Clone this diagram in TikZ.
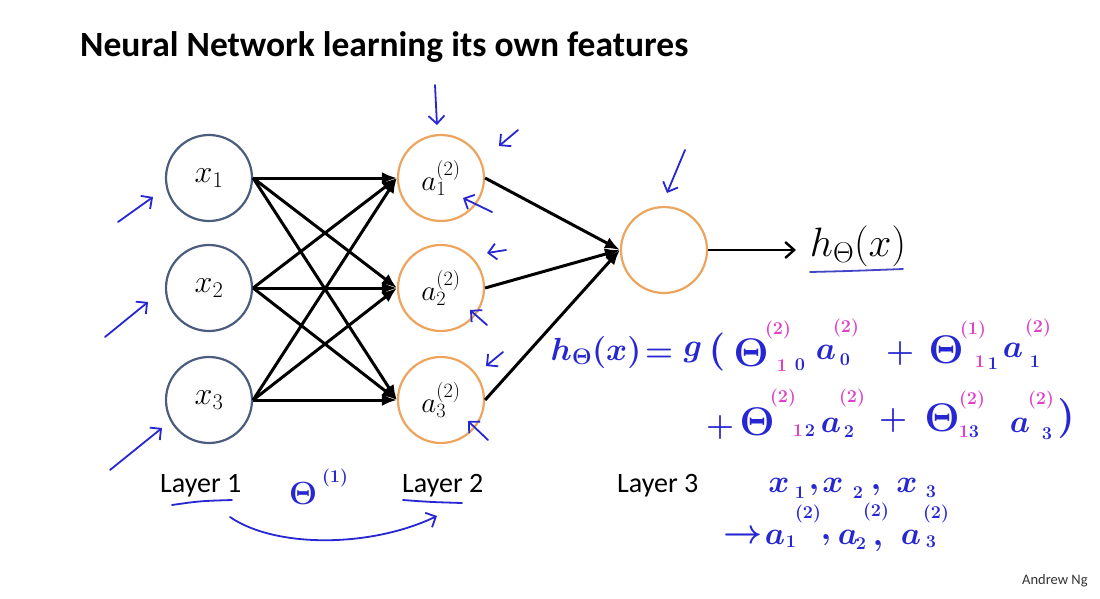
\RequirePackage{fix-cm}
\documentclass[tikz,border=0pt]{standalone}
\usepackage[no-math]{fontspec}
\setmainfont{Carlito}
\usetikzlibrary{arrows.meta}
\definecolor{slate}{HTML}{4A5D7E}
\definecolor{orng}{HTML}{EBA55E}
\definecolor{penblue}{HTML}{2626D2}
\definecolor{penmag}{HTML}{E040C8}
\definecolor{ulblue}{HTML}{4545C8}
\begin{document}
\begin{tikzpicture}[x=1pt,y=-1pt,
  neuron/.style={circle, line width=2.2pt, minimum size=86pt, inner sep=0pt},
  inneuron/.style={neuron, draw=slate, font=\fontsize{32}{34}\selectfont},
  hidneuron/.style={neuron, draw=orng, font=\fontsize{29}{31}\selectfont},
  conn/.style={line width=3pt, -{Latex[length=15pt,width=12pt]}},
  outconn/.style={line width=2.4pt, -{Straight Barb[length=9pt,width=16pt,line width=2.4pt]}},
  pen/.style={penblue, line width=1.8pt, line cap=round, line join=round},
  penarrow/.style={pen, -{Straight Barb[length=8pt,width=16pt,line width=1.8pt]}},
  hw/.style={text=penblue, font=\fontsize{32}{34}\selectfont\boldmath, inner sep=0pt},
  hwbig/.style={text=penblue, font=\fontsize{40}{42}\selectfont\boldmath, inner sep=0pt},
  hwsup/.style={text=penmag, font=\fontsize{18}{19}\selectfont\boldmath, inner sep=0pt},
  hwsupb/.style={text=penblue, font=\fontsize{18}{19}\selectfont\boldmath, inner sep=0pt},
  layerlbl/.style={font=\fontsize{28}{30}\selectfont, anchor=base west, inner sep=0pt}
]
\fill[white] (0,0) rectangle (1100,598);
\useasboundingbox (0,0) rectangle (1100,598);

% title
\node[anchor=base west, inner sep=0pt, font=\fontsize{35.5}{38}\selectfont\bfseries] (title) at (80,56) {Neural Network learning its own features};

% neurons
\node[inneuron] (x1) at (209,178) {$x_1$};
\node[inneuron] (x2) at (209,288) {$x_2$};
\node[inneuron] (x3) at (209,400) {$x_3$};
\node[hidneuron] (a1) at (441,178) {$a^{(2)}_1$};
\node[hidneuron] (a2) at (441,288) {$a^{(2)}_2$};
\node[hidneuron] (a3) at (441,400) {$a^{(2)}_3$};
\node[neuron, draw=orng] (out) at (664,250) {};
\node[inner sep=0pt, font=\fontsize{41}{43}\selectfont] (h) at (858,246) {$h_\Theta(x)$};

% connections
\foreach \i in {1,2,3}{
  \foreach \j in {1,2,3}{
    \draw[conn] (x\i.east) -- (a\j.west);
  }
  \draw[conn] (a\i.east) -- (out.west);
}
\draw[outconn] (out.east) -- (796,250);

% layer labels
\node[layerlbl] (L1) at (160,492) {Layer 1};
\node[layerlbl] (L2) at (402,492) {Layer 2};
\node[layerlbl] (L3) at (617,492) {Layer 3};
\node[anchor=base west, inner sep=0pt, font=\fontsize{14.5}{16}\selectfont, text=black!80] (ng) at (1022,584) {Andrew Ng};

% handwritten annotation arrows
\coordinate (b1t) at (118,222); \coordinate (b1h) at (153,197);
\coordinate (b2t) at (105,337); \coordinate (b2h) at (148,302);
\coordinate (b3t) at (110,470); \coordinate (b3h) at (162,428);
\coordinate (d1t) at (435,85);  \coordinate (d1h) at (437,125);
\coordinate (d2t) at (518,130); \coordinate (d2h) at (499,146);
\coordinate (d3t) at (492,212); \coordinate (d3h) at (463,198);
\coordinate (d4t) at (506,250); \coordinate (d4h) at (487,253);
\coordinate (d5t) at (487,325); \coordinate (d5h) at (470,310);
\coordinate (d6t) at (503,352); \coordinate (d6h) at (486,366);
\coordinate (d7t) at (488,440); \coordinate (d7h) at (468,421);
\coordinate (d8t) at (685,150); \coordinate (d8h) at (667,193);
\foreach \p in {b1,b2,b3,d1,d2,d3,d4,d5,d6,d7,d8}{
  \draw[penarrow] (\p t) -- (\p h);
}

% underlines and curved arrow
\draw[pen, ulblue] (810,272) .. controls (850,271) .. (903,269);
\draw[pen] (172,505) .. controls (200,501) .. (232,500);
\draw[pen] (403,500) .. controls (430,502) .. (462,503);
\coordinate (cs) at (230,517);
\coordinate (ce) at (437,516);
\draw[penarrow] (cs) .. controls (275,548) and (370,548) .. (ce);
\node[hw] (thl) at (303,494) {$\Theta$};
\node[hwsupb] (thls) at (335,478) {$(1)$};

% handwritten equation, line 1
\node[hw] (e1) at (596,352) {$h_\Theta(x)$};
\node[hw] (e2) at (659,355) {$=$};
\node[hw] (e3) at (693,352) {$g$};
\node[hw, font=\fontsize{38}{40}\selectfont\boldmath] (e4) at (717,352) {$($};
\node[hwbig] (t1) at (751,353) {$\Theta$};
\node[hwsup] (t1s) at (778,330) {$(2)$};
\node[hwsup] (t1a) at (782,366) {$1$};
\node[hwsupb] (t1b) at (800,365) {$0$};
\node[hw] (p1) at (826,352) {$a$};
\node[hwsup] (p1s) at (846,328) {$(2)$};
\node[hwsupb] (p1b) at (845,360) {$0$};
\node[hw] (pl1) at (900,353) {$+$};
\node[hwbig] (t2) at (946,350) {$\Theta$};
\node[hwsup] (t2s) at (973,330) {$(1)$};
\node[hwsup] (t2a) at (980,362) {$1$};
\node[hwsupb] (t2b) at (993,364) {$1$};
\node[hw] (p2) at (1013,350) {$a$};
\node[hwsup] (p2s) at (1038,328) {$(2)$};
\node[hwsupb] (p2b) at (1035,362) {$1$};

% line 2
\node[hw] (pl2) at (720,427) {$+$};
\node[hwbig] (t3) at (757,422) {$\Theta$};
\node[hwsup] (t3s) at (783,398) {$(2)$};
\node[hwsup] (t3a) at (798,431) {$1$};
\node[hwsupb] (t3b) at (810,431) {$2$};
\node[hw] (p3) at (831,425) {$a$};
\node[hwsup] (p3s) at (852,398) {$(2)$};
\node[hwsupb] (p3b) at (849,432) {$2$};
\node[hw] (pl3) at (893,420) {$+$};
\node[hwbig] (t4) at (942,418) {$\Theta$};
\node[hwsup] (t4s) at (972,400) {$(2)$};
\node[hwsup] (t4a) at (964,432) {$1$};
\node[hwsupb] (t4b) at (974,432) {$3$};
\node[hw] (p4) at (1020,425) {$a$};
\node[hwsup] (p4s) at (1041,400) {$(2)$};
\node[hwsupb] (p4b) at (1047,434) {$3$};
\node[hwbig] (cl) at (1066,418) {$)$};

% x1, x2, x3
\node[hw] (y1) at (779,485) {$x$};
\node[hwsupb] (y1s) at (800,493) {$1$};
\node[hw] (y1c) at (814,490) {$,$};
\node[hw] (y2) at (833,485) {$x$};
\node[hwsupb] (y2s) at (858,493) {$2$};
\node[hw] (y2c) at (876,490) {$,$};
\node[hw] (y3) at (907,485) {$x$};
\node[hwsupb] (y3s) at (931,492) {$3$};

% -> a1, a2, a3
\node[hw, font=\fontsize{34}{36}\selectfont\boldmath] (arr) at (743,537) {$\rightarrow$};
\node[hw] (z1) at (775,537) {$a$};
\node[hwsupb] (z1s) at (791,542) {$1$};
\node[hwsupb] (z1u) at (808,514) {$(2)$};
\node[hw] (z1c) at (826,540) {$,$};
\node[hw] (z2) at (848,537) {$a$};
\node[hwsupb] (z2s) at (861,544) {$2$};
\node[hwsupb] (z2u) at (876,512) {$(2)$};
\node[hw] (z2c) at (878,546) {$,$};
\node[hw] (z3) at (911,537) {$a$};
\node[hwsupb] (z3s) at (931,542) {$3$};
\node[hwsupb] (z3u) at (936,514) {$(2)$};
\end{tikzpicture}
\end{document}
